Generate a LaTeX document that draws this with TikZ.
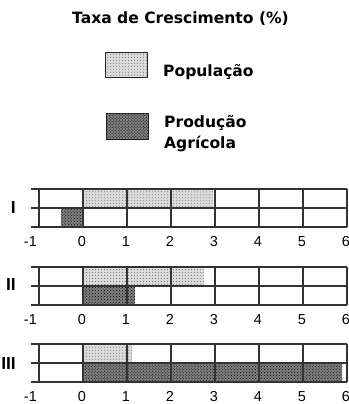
\documentclass[tikz,border=0pt]{standalone}
\usepackage{fontspec}
\setmainfont{DejaVu Sans}
\newfontfamily\tickfont{Liberation Sans}
\usetikzlibrary{patterns}
\tikzset{
  gridline/.style={line width=1.2bp, draw=black!80},
  popfill/.style={fill=black!14, postaction={pattern=dots, pattern color=black!60}},
  agrfill/.style={fill=black!50, postaction={pattern=crosshatch dots, pattern color=black}},
  ticklab/.style={font=\tickfont\fontsize{14.5}{14.5}\selectfont, inner sep=0pt, anchor=base},
  boldlab/.style={font=\bfseries\fontsize{15.6}{15.6}\selectfont, inner sep=0pt},
  romanlab/.style={font=\tickfont\bfseries\fontsize{17.5}{17.5}\selectfont, inner sep=0pt, anchor=east},
  legbox/.style={line width=1bp, draw=black!85}
}
\begin{document}
\begin{tikzpicture}[x=1bp,y=-1bp]
\useasboundingbox (0,0) rectangle (349,404);
\fill[white] (0,0) rectangle (349,404);
% title
\node[boldlab, anchor=base] (title) at (180.5,23) {Taxa de Crescimento (\%)};
% legend
\path[legbox, popfill] (105,52) rectangle (147,77);
\node[boldlab, anchor=base west] (legpop) at (163,76) {População};
\path[legbox, agrfill] (106,113) rectangle (148,139);
\node[boldlab, anchor=base west] (legagr1) at (164,127) {Produção};
\node[boldlab, anchor=base west] (legagr2) at (164,148) {Agrícola};
% bars chart I
\path[popfill] (83,189) rectangle (213,208);
\path[agrfill] (61,208) rectangle (83,227);
% bars chart II
\path[popfill] (83,267) rectangle (204,286);
\path[agrfill] (83,286) rectangle (135,305);
% bars chart III
\path[popfill] (83,344) rectangle (132,363);
\path[agrfill] (83,363) rectangle (342,382);
% grids
\foreach \t/\lab/\ly in {189/I/207, 267/II/284, 344/III/363} {
  \draw[gridline] (31,\t) -- (347,\t) (31,\t+19) -- (347,\t+19) (31,\t+38) -- (347,\t+38);
  \foreach \v in {-1,...,6} \draw[gridline] (83+44*\v,\t) -- (83+44*\v,\t+38);
  \foreach \v in {0,...,6} \node[ticklab] (tick\t v\v) at (82+44*\v,\t+57.5) {\v};
  \node[ticklab, anchor=base east] (tickm\t) at (37,\t+57.5) {-1};
  \node[romanlab] (lab\t) at (16,\ly) {\lab};
}
\end{tikzpicture}
\end{document}
